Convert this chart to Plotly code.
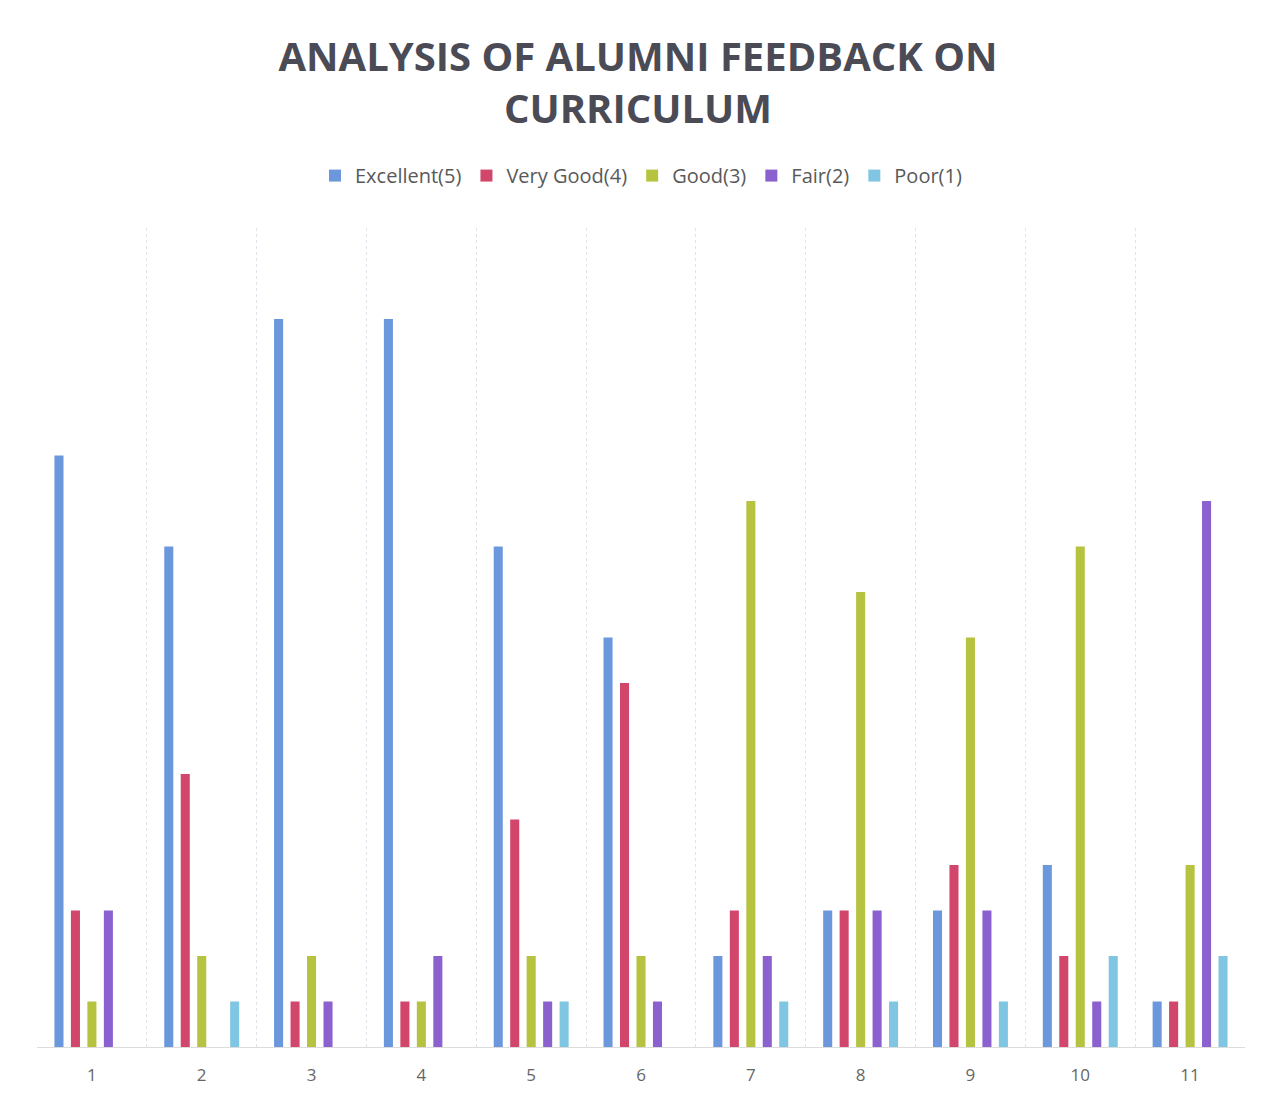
import plotly.graph_objects as go

categories = ["1", "2", "3", "4", "5", "6", "7", "8", "9", "10", "11"]
excellent = [13, 11, 16, 16, 11, 9, 2, 3, 3, 4, 1]
very_good = [3, 6, 1, 1, 5, 8, 3, 3, 4, 2, 1]
good = [1, 2, 2, 1, 2, 2, 12, 10, 9, 11, 4]
fair = [3, 0, 1, 2, 1, 1, 2, 3, 3, 1, 12]
poor = [0, 1, 0, 0, 1, 0, 1, 1, 1, 2, 2]

series_names = ["Excellent(5)", "Very Good(4)", "Good(3)", "Fair(2)", "Poor(1)"]
series_values = [excellent, very_good, good, fair, poor]
colors = ["#6b98dc", "#d2466c", "#b6c340", "#8b61cf", "#80c6e3"]

fig = go.Figure()
for name, vals, col in zip(series_names, series_values, colors):
    fig.add_trace(go.Bar(name=name, x=categories, y=vals, marker=dict(color=col, line=dict(width=0))))

fig.update_layout(
    width=1265, height=1096,
    paper_bgcolor="white", plot_bgcolor="white",
    barmode="group", bargap=0.25, bargroupgap=0.45,
    margin=dict(l=29, r=28, t=220, b=57),
    title=dict(
        text="ANALYSIS OF ALUMNI FEEDBACK ON<br>CURRICULUM",
        x=630 / 1265, xanchor="center", y=1 - 63 / 1096, yanchor="middle",
        font=dict(family="Open Sans", size=40, color="#4b4b56", weight="bold"),
    ),
    legend=dict(
        orientation="h", x=0.5, xanchor="center", y=1.064, yanchor="middle",
        font=dict(family="Open Sans", size=20, color="#595959"),
        itemwidth=30, traceorder="normal",
    ),
    showlegend=True,
)
fig.update_xaxes(
    type="category", tickson="boundaries", showgrid=True, gridcolor="#e2e2ec", griddash="dot",
    gridwidth=1, showline=True, linecolor="#dcdcdc", linewidth=1,
    ticks="", ticklabelstandoff=13,
    tickfont=dict(family="Open Sans", size=17, color="#666666"),
)
fig.update_yaxes(range=[0, 18], showgrid=False, showticklabels=False, zeroline=False)

fig.write_html("out.html")
